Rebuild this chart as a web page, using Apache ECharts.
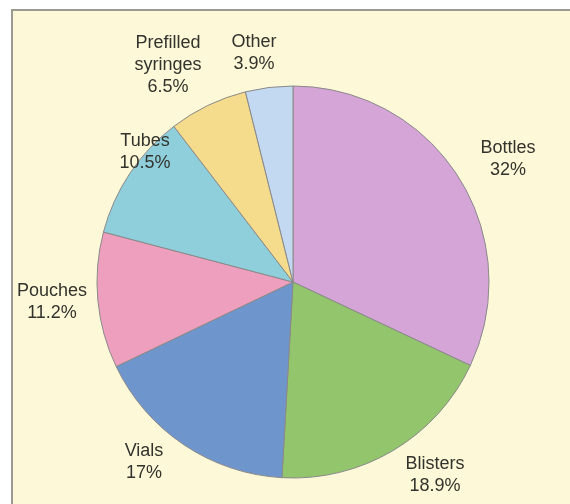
<!DOCTYPE html>
<html>
<head>
<meta charset="utf-8">
<script src="https://cdn.jsdelivr.net/npm/echarts@6/dist/echarts.min.js"></script>
<style>
html,body{margin:0;padding:0;background:#ffffff;}
#chart{width:570px;height:504px;}
</style>
</head>
<body>
<div id="chart"></div>
<script>
var categories = ['Bottles', 'Blisters', 'Vials', 'Pouches', 'Tubes', 'Prefilled\nsyringes', 'Other'];
var values = [32, 18.9, 17, 11.2, 10.5, 6.5, 3.9];
var colors = ['#d6a5d8', '#93c56c', '#6f95cd', '#ef9fbe', '#8fcfdc', '#f5db8c', '#c3d9f1'];
// label anchor points (style)
var labelPos = [[508, 159], [435, 475], [144, 462], [52, 302], [145, 152], [168, 65], [254, 53]];

var chart = echarts.init(document.getElementById('chart'));
var data = categories.map(function (c, i) {
  return { name: c, value: values[i], itemStyle: { color: colors[i] } };
});
chart.setOption({
  animation: false,
  backgroundColor: '#ffffff',
  graphic: [{
    type: 'rect',
    shape: { x: 12, y: 10, width: 700, height: 700 },
    style: { fill: '#fdf8d8', stroke: '#9a9a90', lineWidth: 2 },
    z: -10
  }],
  series: [{
    type: 'pie',
    center: [293, 282],
    radius: 196,
    startAngle: 90,
    clockwise: true,
    data: data,
    itemStyle: { borderColor: '#8a8a8a', borderWidth: 1 },
    label: {
      show: true,
      position: 'outside',
      overflow: 'none',
      formatter: function (p) { return p.name + '\n' + p.value + '%'; },
      fontFamily: 'Liberation Sans, Arial, sans-serif',
      fontSize: 18,
      lineHeight: 22,
      color: '#33332d',
      align: 'center'
    },
    labelLine: { show: false },
    labelLayout: function (params) {
      var p = labelPos[params.dataIndex];
      return { x: p[0], y: p[1], align: 'center', verticalAlign: 'middle', width: 200 };
    },
    emphasis: { disabled: true }
  }]
});
</script>
</body>
</html>
